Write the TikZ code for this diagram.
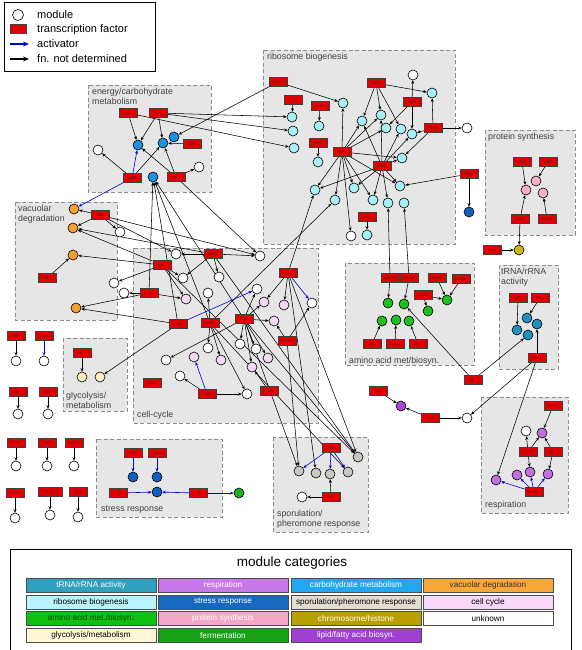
\documentclass[tikz,border=0pt]{standalone}
\usepackage{fontspec}
\setmainfont{Liberation Sans}
\usetikzlibrary{arrows.meta}
\definecolor{tfred}{HTML}{E00000}
\definecolor{boxgray}{HTML}{E6E6E6}
\definecolor{ribc}{HTML}{A8F0F8}
\definecolor{carbc}{HTML}{1E90E0}
\definecolor{vacc}{HTML}{F5A030}
\definecolor{ccc}{HTML}{F2D8F2}
\definecolor{aac}{HTML}{20C020}
\definecolor{trnac}{HTML}{2090C0}
\definecolor{respc}{HTML}{C070E0}
\definecolor{protc}{HTML}{F5B0C8}
\definecolor{chrc}{HTML}{C8B818}
\definecolor{sporc}{HTML}{C8C8C0}
\definecolor{stressc}{HTML}{1060C0}
\definecolor{glyc}{HTML}{F8F0C0}
\definecolor{fermc}{HTML}{20B020}
\definecolor{lipc}{HTML}{A848D0}
\definecolor{sTrna}{HTML}{30A0C0}
\definecolor{sResp}{HTML}{C878E8}
\definecolor{sCarb}{HTML}{20A8F0}
\definecolor{sVac}{HTML}{F8A838}
\definecolor{sRib}{HTML}{B8F4FA}
\definecolor{sStress}{HTML}{1868C0}
\definecolor{sSpor}{HTML}{E2DDD0}
\definecolor{sCell}{HTML}{F8D8F8}
\definecolor{sAmino}{HTML}{10C010}
\definecolor{sProt}{HTML}{F4A8C8}
\definecolor{sChr}{HTML}{B8A000}
\definecolor{sGly}{HTML}{FFF8D8}
\definecolor{sFerm}{HTML}{18A018}
\definecolor{sLip}{HTML}{A040D0}
\pgfdeclarelayer{bg}
\pgfdeclarelayer{edges}
\pgfsetlayers{bg,edges,main}
\newcommand\tfn[3]{\node[tf] (#1) at (#2) {#3};}
\newcommand\mdn[3]{\node[md=#3] (#1) at (#2) {};}
\begin{document}
\begin{tikzpicture}[x=1pt,y=-1pt,
  tf/.style={draw=black!75,fill=tfred,minimum width=18pt,minimum height=9pt,inner sep=0pt,line width=0.5pt,font=\fontsize{3.6}{4}\selectfont,text=black!55!red},
  md/.style={circle,draw=black,line width=0.6pt,minimum size=10pt,inner sep=0pt,fill=#1},
  ed/.style={-{Stealth[length=3.5pt,width=3pt]},line width=0.55pt,draw=black},
  act/.style={-{Stealth[length=3.5pt,width=3pt]},line width=0.6pt,draw=blue!85!black},
  mbox/.style={fill=boxgray,draw=black!45,line width=0.7pt,dash pattern=on 4pt off 2.5pt},
  mlab/.style={font=\fontsize{8.8}{10}\selectfont,text=black!75,align=left,inner sep=0pt},
  sw/.style={draw=black!70,line width=0.8pt,minimum width=130pt,minimum height=14pt,inner sep=0pt,font=\fontsize{8.2}{8.5}\selectfont}
]
\useasboundingbox (0,0) rectangle (581,650);

% ---------- module boxes ----------
\begin{pgfonlayer}{bg}
\fill[white] (0,0) rectangle (581,650);
\draw[mbox] (88,85) rectangle (211,192);
\draw[mbox] (263,50) rectangle (455,244);
\draw[mbox] (485,130) rectangle (575,235);
\draw[mbox] (15,202) rectangle (117,320);
\draw[mbox] (133,248) rectangle (318,423);
\draw[mbox] (345,263) rectangle (474,365);
\draw[mbox] (499,265) rectangle (558,369);
\draw[mbox] (481,397) rectangle (568,513);
\draw[mbox] (63,338) rectangle (127,411);
\draw[mbox] (96,439) rectangle (222,517);
\draw[mbox] (273,437) rectangle (368,532);
\end{pgfonlayer}
\node[mlab,anchor=north west] (lEn) at (92,88) {energy/carbohydrate\\metabolism};
\node[mlab,anchor=north west] (lRib) at (267,53) {ribosome biogenesis};
\node[mlab,anchor=north west] (lProt) at (488,133) {protein synthesis};
\node[mlab,anchor=north west] (lVac) at (18,205) {vacuolar\\degradation};
\node[mlab,anchor=north west] (lTr) at (501,268) {tRNA/rRNA\\activity};
\node[mlab,anchor=south west] (lGly) at (66,409) {glycolysis/\\metabolism};
\node[mlab,anchor=south west] (lCc) at (137,420) {cell-cycle};
\node[mlab,anchor=south west] (lAa) at (349,366) {amino acid met/biosyn.};
\node[mlab,anchor=south west] (lResp) at (485,510) {respiration};
\node[mlab,anchor=south west] (lSt) at (101,514) {stress response};
\node[mlab,anchor=south west] (lSp) at (277,529) {sporulation/\\pheromone response};

% ---------- energy ----------
\tfn{ROX1}{128,113}{ROX1}
\tfn{YAP6}{158,113}{YAP6}
\mdn{e1}{138,145}{carbc}
\mdn{e2}{163,143}{carbc}
\mdn{e3}{174,137}{carbc}
\tfn{SOK2}{192,144}{SOK2}
\mdn{ew1}{98,150}{white}
\tfn{NRG1}{132,178}{NRG1}
\mdn{e4}{153,177}{carbc}
\tfn{PHD1}{176,177}{PHD1}
\mdn{ew2}{199,167}{white}

% ---------- vacuolar ----------
\mdn{o1}{74,209}{vacc}
\tfn{SKN7}{100,215}{SKN7}
\mdn{o2}{73,228}{vacc}
\mdn{vw1}{120,232}{white}
\mdn{o3}{73,255}{vacc}
\tfn{SMP1}{47,278}{SMP1}
\mdn{o4}{76,308}{vacc}
\mdn{vw2}{114,283}{white}
\mdn{vw3}{124,293}{white}

% ---------- cell cycle ----------
\mdn{cw1}{176,254}{white}
\tfn{NDD1}{213,254}{NDD1}
\mdn{cw3}{260,256}{white}
\tfn{SWI6}{162,265}{SWI6}
\tfn{FKH2}{288,273}{FKH2}
\mdn{cw4}{183,278}{white}
\mdn{cw5}{219,277}{white}
\tfn{ACE2}{149,293}{ACE2}
\mdn{cp1}{186,299}{ccc}
\mdn{cw6}{208,293}{white}
\mdn{cw7}{257,289}{white}
\mdn{cp2}{264,302}{ccc}
\mdn{cp3}{284,305}{ccc}
\mdn{cw8}{312,303}{white}
\tfn{FKH1}{178,324}{FKH1}
\tfn{MBP1}{210,323}{MBP1}
\tfn{SWI4}{244,319}{SWI4}
\mdn{cp4}{274,321}{ccc}
\tfn{MCM1}{287,341}{MCM1}
\mdn{cw9}{240,344}{white}
\mdn{cw10}{208,348}{white}
\mdn{cw11}{256,349}{white}
\mdn{cw12}{166,360}{white}
\mdn{cp5}{194,357}{ccc}
\mdn{cp6}{221,360}{ccc}
\mdn{cp7}{268,358}{ccc}
\mdn{cp8}{252,367}{ccc}
\mdn{cw14}{180,376}{white}
\tfn{STB1}{152,383}{STB1}
\tfn{SWI5}{207,394}{SWI5}
\mdn{cw13}{247,394}{white}
\tfn{PLM2}{269,391}{PLM2}

% ---------- ribosome ----------
\tfn{GAT1}{278,82}{GAT1}
\tfn{CIN5}{293,100}{CIN5}
\mdn{r1}{292,117}{ribc}
\mdn{r2}{293,131}{ribc}
\mdn{r3}{294,148}{ribc}
\tfn{TFa}{320,106}{DOT6}
\mdn{r4}{319,126}{ribc}
\tfn{TFb}{318,143}{SMP1}
\mdn{r5}{318,162}{ribc}
\tfn{DAT3}{376,83}{DAT3}
\mdn{rw1}{413,75}{white}
\mdn{r6}{432,93}{ribc}
\tfn{YAP5}{412,102}{YAP5}
\tfn{PDR1}{433,128}{PDR1}
\mdn{r7}{343,103}{ribc}
\mdn{r8}{362,121}{ribc}
\mdn{r9}{381,115}{ribc}
\mdn{r10}{386,128}{ribc}
\mdn{r11}{401,129}{ribc}
\mdn{r12}{412,134}{ribc}
\tfn{RAP1}{342,152}{RAP1}
\tfn{FHL1}{382,166}{FHL1}
\mdn{r13}{402,158}{ribc}
\mdn{r14}{315,190}{ribc}
\mdn{r15}{354,188}{ribc}
\mdn{r16}{335,200}{ribc}
\mdn{r17}{373,200}{ribc}
\mdn{r18}{388,203}{ribc}
\mdn{r19}{400,186}{ribc}
\mdn{r20}{404,203}{ribc}
\tfn{RME1}{367,217}{RME1}
\mdn{r21}{367,235}{ribc}
\mdn{rw2}{351,236}{white}
\mdn{rw3}{467,128}{white}
\tfn{SFP1}{469,174}{SFP1}
\mdn{sb}{469,212}{stressc}

% ---------- protein synthesis ----------
\tfn{PA}{522,162}{RCS1}
\tfn{PB}{548,162}{MSN1}
\mdn{pp1}{536,181}{protc}
\mdn{pp2}{526,190}{protc}
\mdn{pp3}{543,193}{protc}
\tfn{PC}{520,219}{HIR1}
\tfn{PD}{547,219}{RPN4}
\mdn{po}{519,250}{chrc}
\tfn{PE}{492,250}{HIR2}

% ---------- amino acid ----------
\tfn{MET31}{390,278}{MET31}
\tfn{MET4}{409,278}{MET4}
\tfn{ARG80}{437,278}{ARG80}
\tfn{ARG81}{461,279}{ARG81}
\tfn{GCN4}{423,295}{GCN4}
\mdn{a1}{388,303}{aac}
\mdn{a2}{404,304}{aac}
\mdn{a3}{447,300}{aac}
\mdn{a4}{428,311}{aac}
\mdn{a5}{382,321}{aac}
\mdn{a6}{396,320}{aac}
\mdn{a7}{409,321}{aac}
\tfn{BAS1}{372,344}{BAS1}
\tfn{DAL81}{395,344}{DAL81}
\tfn{LEU3}{418,344}{LEU3}
\tfn{CBF1}{473,380}{CBF1}

% ---------- tRNA ----------
\tfn{AZF1}{518,298}{AZF1}
\tfn{FZF1}{540,298}{FZF1}
\mdn{t1}{527,318}{trnac}
\mdn{t2}{537,324}{trnac}
\mdn{t3}{517,330}{trnac}
\mdn{t4}{528,335}{trnac}
\tfn{ABF1}{537,358}{ABF1}

% ---------- lipid / respiration ----------
\tfn{INO2}{378,391}{INO2}
\mdn{l1}{401,406}{lipc}
\tfn{INO4}{430,418}{INO4}
\mdn{lw}{467,418}{white}
\tfn{HAP4}{553,406}{HAP4}
\mdn{rpw}{526,431}{white}
\mdn{rp5}{542,433}{respc}
\tfn{HAP5}{528,452}{HAP5}
\tfn{HAP3}{553,452}{HAP3}
\mdn{rp1}{496,480}{respc}
\mdn{rp2}{517,475}{respc}
\mdn{rp3}{530,472}{respc}
\mdn{rp4}{548,474}{respc}
\tfn{HAP2}{534,492}{HAP2}

% ---------- glycolysis ----------
\tfn{GCR1}{82,353}{GCR1}
\mdn{g1}{82,377}{glyc}
\mdn{g2}{100,377}{glyc}

% ---------- stress ----------
\tfn{HSF1}{133,453}{HSF1}
\tfn{MSN4}{157,453}{MSN4}
\mdn{st1}{133,477}{stressc}
\mdn{st2}{157,477}{stressc}
\tfn{CAD1}{118,493}{CAD1}
\mdn{st3}{157,492}{stressc}
\tfn{YAP1}{198,493}{YAP1}
\mdn{fg}{239,493}{fermc}

% ---------- sporulation ----------
\tfn{STE12}{331,448}{STE12}
\mdn{s1}{299,471}{sporc}
\mdn{s2}{316,473}{sporc}
\mdn{s3}{330,474}{sporc}
\mdn{s4}{348,472}{sporc}
\mdn{s5}{358,457}{sporc}
\tfn{DIG1}{331,497}{DIG1}
\mdn{sw}{302,497}{white}

% ---------- isolated ----------
\tfn{I1}{16,336}{MTH1}   \mdn{iw1}{16,361}{white}
\tfn{I2}{44,336}{ARO80}  \mdn{iw2}{44,361}{white}
\tfn{I3}{18,392}{GCR2}   \mdn{iw3}{18,414}{white}
\tfn{I4}{48,392}{GAT2}   \mdn{iw4}{48,414}{white}
\tfn{I5}{16,443}{PHO4}   \mdn{iw5}{16,466}{white}
\tfn{I6}{47,443}{ZAP1}   \mdn{iw6}{47,466}{white}
\tfn{I7}{74,443}{MAC1}   \mdn{iw7}{74,466}{white}
\tfn{I8}{15,493}{PUT3}   \mdn{iw8}{15,518}{white}
\node[tf,minimum width=24pt] (I9) at (50,492) {YFL044C}; \mdn{iw9}{50,515}{white}
\tfn{I10}{78,492}{REB1}  \mdn{iw10}{78,517}{white}

% ---------- edges ----------
\begin{pgfonlayer}{edges}
\foreach \a/\b in {ROX1/e1, YAP6/e1, YAP6/e2, SOK2/e2, NRG1/ew1, NRG1/e2, PHD1/e1, PHD1/e2, PHD1/ew2, PHD1/cw3, YAP6/r1, YAP6/r2, ROX1/r3, GAT1/e3, ACE2/e4, FKH1/e4, MBP1/e4, SWI4/e4,
 SKN7/o1, SKN7/o2, SKN7/vw1, SMP1/o3, SKN7/cw1, SKN7/cw3, NDD1/o2, SWI6/o2, SWI6/o3, ACE2/o4, FKH1/o4, SWI6/vw2, ACE2/vw3,
 NDD1/cw1, NDD1/cw3, NDD1/cw5, NDD1/cw4, SWI6/cw4, ACE2/cp1, SWI6/cp1, MBP1/cw6, FKH2/cp2, FKH2/cp3, SWI4/cp2, SWI4/cp4, SWI4/cw9, SWI4/cw11, SWI4/cp7, SWI4/cp8, SWI4/cw12, SWI4/cw7, MBP1/cw10, MBP1/cp6, MBP1/cw13, SWI5/cw14, SWI5/cw13, PLM2/cp8, MCM1/cw8, MCM1/cp4,
 MBP1/r16, FKH2/r14,
 MCM1/s1, SWI4/s1, FKH2/s2, NDD1/s5, SWI6/s5, FKH2/s5, SWI4/s5, MBP1/s4, DIG1/s3, DIG1/sw,
 GCR1/g1, FKH1/g2,
 PA/pp2, PB/pp1, PC/pp2, PC/po, PD/pp3, PE/po,
 AZF1/t3, FZF1/t1, ABF1/t2, CBF1/t4, CBF1/a2, ABF1/lw, ABF1/rp1, INO2/l1, INO4/l1, INO4/lw,
 HAP4/rp5, HAP5/rpw, HAP5/rp5, HAP3/rp5, HAP5/rp3, HAP3/rp4,
 MET31/a1, MET4/a2, ARG80/a3, ARG81/a3, GCN4/a3, GCN4/a4, BAS1/a5, DAL81/a6, LEU3/a7, MET31/r18, MET4/r20,
 GAT1/r7, CIN5/r1, TFa/r4, TFb/r5, RME1/r21, DAT3/r6, DAT3/r8, DAT3/r9, DAT3/r11, YAP5/rw1, YAP5/r10, YAP5/r12, PDR1/r6, PDR1/r12, PDR1/r13, PDR1/rw3,
 RAP1/r7, RAP1/r8, RAP1/r9, RAP1/r10, RAP1/r13, RAP1/r14, RAP1/r16, RAP1/r15, RAP1/r17, RAP1/r19, RAP1/rw2,
 FHL1/r14, FHL1/r8, FHL1/r9, FHL1/r11, FHL1/r12, FHL1/r15, FHL1/r17, FHL1/r18, FHL1/r19, FHL1/r13, SFP1/r19, SFP1/sb,
 I1/iw1, I3/iw3, I4/iw4, I5/iw5, I6/iw6, I7/iw7, I8/iw8, I9/iw9, I10/iw10}
  \draw[ed] (\a) -- (\b);
\foreach \a/\b in {NRG1/e1, NRG1/o1, FKH1/cw7, FKH2/cw8, SWI5/cp5, STE12/s1, STE12/s3, STE12/s4, HSF1/st1, MSN4/st2, CAD1/st3, YAP1/st3, YAP1/fg, HAP2/rp1, HAP2/rp2, HAP2/rp3, HAP2/rp4, I2/iw2}
  \draw[act] (\a) -- (\b);
\end{pgfonlayer}

% ---------- top-left legend ----------
\draw[line width=1pt] (4,3) rectangle (155,72);
\node[md=white,minimum size=11pt] (lgc) at (18,15) {};
\node[draw=black!75,fill=tfred,minimum width=16pt,minimum height=9pt,inner sep=0pt] (lgt) at (18,29) {};
\coordinate (lga0) at (10,44); \coordinate (lga1) at (29,44);
\coordinate (lgb0) at (10,59); \coordinate (lgb1) at (29,59);
\draw[-{Stealth[length=6pt,width=5pt]},line width=1.6pt,blue!85!black] (lga0) -- (lga1);
\draw[-{Stealth[length=6pt,width=5pt]},line width=1.6pt,black] (lgb0) -- (lgb1);
\begin{scope}[every node/.style={anchor=west,inner sep=0pt,font=\fontsize{11}{12}\selectfont}]
\node (lt1) at (37,15) {module};
\node (lt2) at (37,29.5) {transcription factor};
\node (lt3) at (37,44) {activator};
\node (lt4) at (37,59) {fn. not determined};
\end{scope}

% ---------- module categories ----------
\draw[line width=1pt] (10,655) -- (10,549) -- (571,549) -- (571,655);
\node[font=\fontsize{13.5}{14}\selectfont] (mct) at (292,563) {module categories};
\node[sw,fill=sTrna,text=white] (c11) at (91,585.5) {tRNA/rRNA activity};
\node[sw,fill=sResp,text=white] (c12) at (223,585.5) {respiration};
\node[sw,fill=sCarb,text=white] (c13) at (356,585.5) {carbohydrate metabolism};
\node[sw,fill=sVac,text=black!80] (c14) at (488,585.5) {vacuolar degradation};
\node[sw,fill=sRib,text=black] (c21) at (91,602) {ribosome biogenesis};
\node[sw,fill=sStress,text=white] (c22) at (223,602) {stress response};
\node[sw,fill=sSpor,text=black] (c23) at (356,602) {sporulation/pheromone response};
\node[sw,fill=sCell,text=black] (c24) at (488,602) {cell cycle};
\node[sw,fill=sAmino,text=black!70!green] (c31) at (91,618.5) {amino acid met./biosyn.};
\node[sw,fill=sProt,text=white] (c32) at (223,618.5) {protein synthesis};
\node[sw,fill=sChr,text=white] (c33) at (356,618.5) {chromosome/histone};
\node[sw,fill=white,text=black] (c34) at (488,618.5) {unknown};
\node[sw,fill=sGly,text=black] (c41) at (91,635.5) {glycolysis/metabolism};
\node[sw,fill=sFerm,text=white] (c42) at (223,635.5) {fermentation};
\node[sw,fill=sLip,text=white] (c43) at (356,635.5) {lipid/fatty acid biosyn.};
\end{tikzpicture}
\end{document}
